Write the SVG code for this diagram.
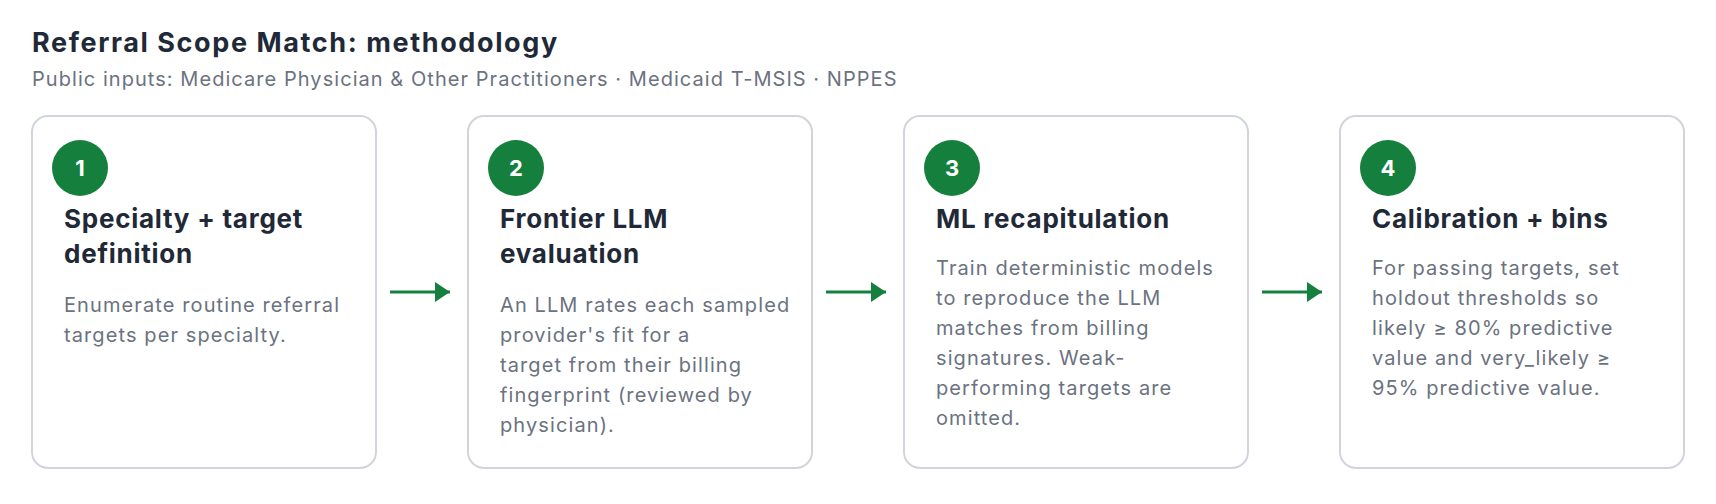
<svg xmlns="http://www.w3.org/2000/svg" width="1716" height="504" viewBox="0 0 1716 504">
  <defs>
    <marker id="arrow" viewBox="0 0 15 20" refX="15" refY="10" markerWidth="15" markerHeight="20" markerUnits="userSpaceOnUse" orient="auto">
      <path d="M0,0 L15,10 L0,20 Z" fill="#15803d"/>
    </marker>
    <style>
      text { font-family: Inter, "Liberation Sans", sans-serif; font-optical-sizing: none; font-variation-settings: "opsz" 14; }
      .title { font-size: 27px; font-weight: 700; fill: #1f2937; letter-spacing: 1.6px; }
      .subtitle { font-size: 20px; fill: #6b7280; letter-spacing: 1.05px; }
      .card { fill: #ffffff; stroke: #d1d5db; stroke-width: 2; }
      .badge { fill: #15803d; }
      .num { font-size: 22px; font-weight: 700; fill: #ffffff; text-anchor: middle; }
      .head { font-size: 26px; font-weight: 700; fill: #1f2937; letter-spacing: 0.75px; }
      .body { font-size: 20px; fill: #6b7280; letter-spacing: 1.1px; }
      .conn { stroke: #15803d; stroke-width: 3; fill: none; }
    </style>
  </defs>
  <rect x="0" y="0" width="1716" height="504" fill="#ffffff"/>
  <text class="title" x="32" y="52">Referral Scope Match: methodology</text>
  <text class="subtitle" x="32" y="86">Public inputs: Medicare Physician &amp; Other Practitioners · Medicaid T-MSIS · NPPES</text>

  <g id="step1">
    <rect class="card" x="32" y="116" width="344" height="352" rx="16"/>
    <circle class="badge" cx="80" cy="168" r="28"/>
    <text class="num" x="80" y="176">1</text>
    <text class="head" x="64" y="228">Specialty + target</text>
    <text class="head" x="64" y="263">definition</text>
    <text class="body" x="64" y="312">Enumerate routine referral</text>
    <text class="body" x="64" y="342">targets per specialty.</text>
  </g>

  <g id="step2">
    <rect class="card" x="468" y="116" width="344" height="352" rx="16"/>
    <circle class="badge" cx="516" cy="168" r="28"/>
    <text class="num" x="516" y="176">2</text>
    <text class="head" x="500" y="228">Frontier LLM</text>
    <text class="head" x="500" y="263">evaluation</text>
    <text class="body" x="500" y="312">An LLM rates each sampled</text>
    <text class="body" x="500" y="342">provider's fit for a</text>
    <text class="body" x="500" y="372">target from their billing</text>
    <text class="body" x="500" y="402">fingerprint (reviewed by</text>
    <text class="body" x="500" y="432">physician).</text>
  </g>

  <g id="step3">
    <rect class="card" x="904" y="116" width="344" height="352" rx="16"/>
    <circle class="badge" cx="952" cy="168" r="28"/>
    <text class="num" x="952" y="176">3</text>
    <text class="head" x="936" y="228">ML recapitulation</text>
    <text class="body" x="936" y="275">Train deterministic models</text>
    <text class="body" x="936" y="305">to reproduce the LLM</text>
    <text class="body" x="936" y="335">matches from billing</text>
    <text class="body" x="936" y="365">signatures. Weak-</text>
    <text class="body" x="936" y="395">performing targets are</text>
    <text class="body" x="936" y="425">omitted.</text>
  </g>

  <g id="step4">
    <rect class="card" x="1340" y="116" width="344" height="352" rx="16"/>
    <circle class="badge" cx="1388" cy="168" r="28"/>
    <text class="num" x="1388" y="176">4</text>
    <text class="head" x="1372" y="228">Calibration + bins</text>
    <text class="body" x="1372" y="275">For passing targets, set</text>
    <text class="body" x="1372" y="305">holdout thresholds so</text>
    <text class="body" x="1372" y="335">likely ≥ 80% predictive</text>
    <text class="body" x="1372" y="365">value and very_likely ≥</text>
    <text class="body" x="1372" y="395">95% predictive value.</text>
  </g>

  <g id="connectors">
    <line class="conn" x1="390" y1="292" x2="450" y2="292" marker-end="url(#arrow)"/>
    <line class="conn" x1="826" y1="292" x2="886" y2="292" marker-end="url(#arrow)"/>
    <line class="conn" x1="1262" y1="292" x2="1322" y2="292" marker-end="url(#arrow)"/>
  </g>
</svg>
